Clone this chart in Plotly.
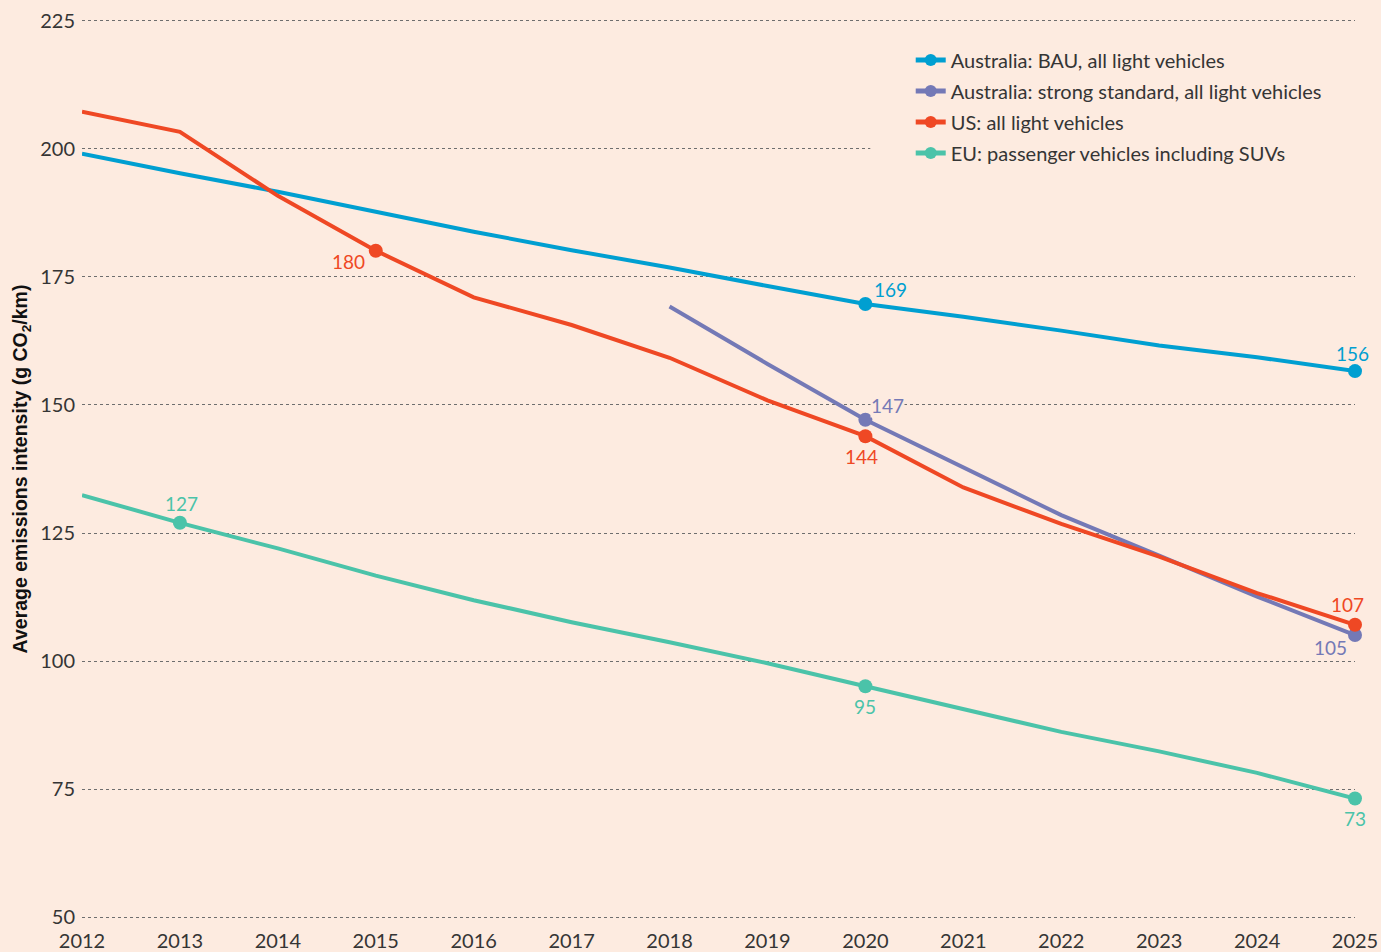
import plotly.graph_objects as go

years = list(range(2012, 2026))

bau = [199.0, 195.2, 191.6, 187.7, 183.8, 180.2, 176.8, 173.2, 169.7, 167.2, 164.5, 161.6, 159.3, 156.6]
strong_years = list(range(2018, 2026))
strong = [169.2, 158.0, 147.1, 137.8, 128.5, 120.6, 112.6, 105.1]
us = [207.2, 203.3, 190.8, 180.1, 171.0, 165.6, 159.2, 150.9, 143.9, 133.9, 126.8, 120.4, 113.3, 107.1]
eu = [132.4, 127.0, 122.0, 116.7, 111.9, 107.6, 103.7, 99.6, 95.1, 90.7, 86.2, 82.4, 78.2, 73.2]

names = [
    "Australia: BAU, all light vehicles",
    "Australia: strong standard, all light vehicles",
    "US: all light vehicles",
    "EU: passenger vehicles including SUVs",
]
colors = ["#009fd1", "#7479b6", "#ef4824", "#4bc3a9"]

# labelled points: (year, label text, xshift, yshift)
bau_labels = [(2020, "169", 25, 14), (2025, "156", -3, 18)]
strong_labels = [(2020, "147", 22, 14), (2025, "105", -25, -12)]
us_labels = [(2015, "180", -27, -11), (2020, "144", -4, -20), (2025, "107", -8, 20)]
eu_labels = [(2013, "127", 2, 19), (2020, "95", 0, -20), (2025, "73", 0, -20)]

BG = "#fdebe0"
TXT = "#353535"
FONT = "Lato, Open Sans, sans-serif"

series = [
    (years, bau, bau_labels),
    (strong_years, strong, strong_labels),
    (years, us, us_labels),
    (years, eu, eu_labels),
]

fig = go.Figure()
annotations = []
for i, ((xs, ys, labs), name, col) in enumerate(zip(series, names, colors)):
    lab_years = [l[0] for l in labs]
    sizes = [14 if x in lab_years else 0 for x in xs]
    fig.add_trace(go.Scatter(
        x=xs, y=ys, name=name, mode="lines+markers",
        legendgroup="g%d" % i,
        line=dict(color=col, width=4),
        marker=dict(color=col, size=sizes, opacity=1, line=dict(width=0)),
        cliponaxis=False,
    ))
    for yr, txt, dx, dy in labs:
        yv = ys[xs.index(yr)]
        annotations.append(dict(
            x=yr, y=yv, xref="x", yref="y", text=txt, showarrow=False,
            xshift=dx, yshift=dy,
            font=dict(family=FONT, size=19, color=col),
            bgcolor=BG if txt == "147" else None,
            borderpad=0,
        ))

fig.update_layout(
    width=1381, height=952,
    paper_bgcolor=BG, plot_bgcolor=BG,
    margin=dict(l=82, r=26, t=18, b=32),
    annotations=annotations,
    showlegend=True,
    legend=dict(
        x=0.651, y=0.975, xanchor="left", yanchor="top",
        bgcolor="rgba(0,0,0,0)",
        font=dict(family=FONT, size=20, color=TXT),
        itemsizing="constant", tracegroupgap=2,
    ),
    shapes=[dict(
        type="rect", xref="x", yref="y", x0=2020.05, x1=2025.2, y0=195, y1=221,
        fillcolor=BG, line=dict(width=0), layer="between",
    )],
)

fig.update_xaxes(
    range=[2012, 2025], tickmode="array", tickvals=years,
    ticktext=[str(y) for y in years],
    showgrid=False, zeroline=False, showline=False, ticks="",
    ticklabelstandoff=7, automargin=False,
    tickfont=dict(family=FONT, size=20, color=TXT),
)
fig.update_yaxes(
    range=[49.5, 225.5], tickvals=[50, 75, 100, 125, 150, 175, 200, 225],
    showgrid=True, gridcolor="#6e6e6e", gridwidth=1, griddash="dot",
    zeroline=False, showline=False, ticks="",
    ticklabelstandoff=6, automargin=False,
    tickfont=dict(family=FONT, size=20, color=TXT),
    title=dict(
        text="<b>Average emissions intensity (g CO<sub>2</sub>/km)</b>",
        font=dict(family="Liberation Sans Narrow, Arial Narrow, sans-serif", size=19.5, color="#111111"),
        standoff=7,
    ),
)

fig.write_html(
    "out.html",
    config={"displayModeBar": False},
    post_script="document.body.style.margin='0';document.body.style.padding='0';document.body.style.overflow='hidden';",
)
